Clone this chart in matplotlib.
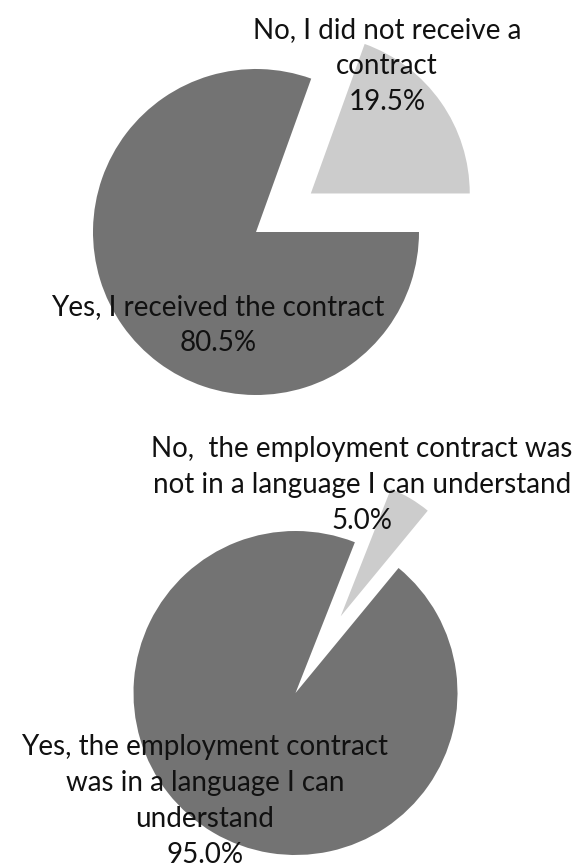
import matplotlib
matplotlib.use("Agg")
import matplotlib.pyplot as plt

plt.rcParams['font.family'] = ['Lato', 'DejaVu Sans']

# Data
top_labels = ["No, I did not receive a\ncontract", "Yes, I received the contract"]
top_values = [19.5, 80.5]
bottom_labels = ["No,  the employment contract was\nnot in a language I can understand",
                 "Yes, the employment contract\nwas in a language I can\nunderstand"]
bottom_values = [5.0, 95.0]

LIGHT = "#cccccc"
DARK = "#737373"
TXT = "#111111"

W, H = 574, 867
fig = plt.figure(figsize=(W / 100, H / 100), dpi=100)
ax = fig.add_axes([0, 0, 1, 1])
ax.set_xlim(0, W)
ax.set_ylim(0, H)
ax.set_aspect('equal')
ax.axis('off')

FS = 20
LS = 1.47

# Top pie
r1 = 163
c1 = (256, H - 232)
w1, _ = ax.pie(top_values, colors=[LIGHT, DARK], startangle=0, counterclock=True,
               explode=[67, 0], radius=r1, center=c1, frame=True,
               wedgeprops=dict(linewidth=0))
w1[0].set_radius(r1 * 0.975)
ax.set_xlim(0, W)
ax.set_ylim(0, H)
ax.axis('off')

ax.text(387, H - 66, f"{top_labels[0]}\n{top_values[0]:.1f}%", ha='center', va='center',
        multialignment='center', fontsize=FS, color=TXT, linespacing=LS)
ax.text(218, H - 325, f"{top_labels[1]}\n{top_values[1]:.1f}%", ha='center', va='center',
        multialignment='center', fontsize=FS, color=TXT, linespacing=LS)

# Bottom pie
r2 = 162
c2 = (295.5, H - 693)
w2, _ = ax.pie(bottom_values, colors=[LIGHT, DARK], startangle=50.5, counterclock=True,
               explode=[89, 0], radius=r2, center=c2, frame=True,
               wedgeprops=dict(linewidth=0))
w2[0].set_radius(r2 * 0.845)
ax.set_xlim(0, W)
ax.set_ylim(0, H)
ax.axis('off')

ax.text(362, H - 485, f"{bottom_labels[0]}\n{bottom_values[0]:.1f}%", ha='center', va='center',
        multialignment='center', fontsize=FS, color=TXT, linespacing=LS)
ax.text(205, H - 801, f"{bottom_labels[1]}\n{bottom_values[1]:.1f}%", ha='center', va='center',
        multialignment='center', fontsize=FS, color=TXT, linespacing=LS)

fig.savefig("out.png", dpi=100, facecolor='white')
